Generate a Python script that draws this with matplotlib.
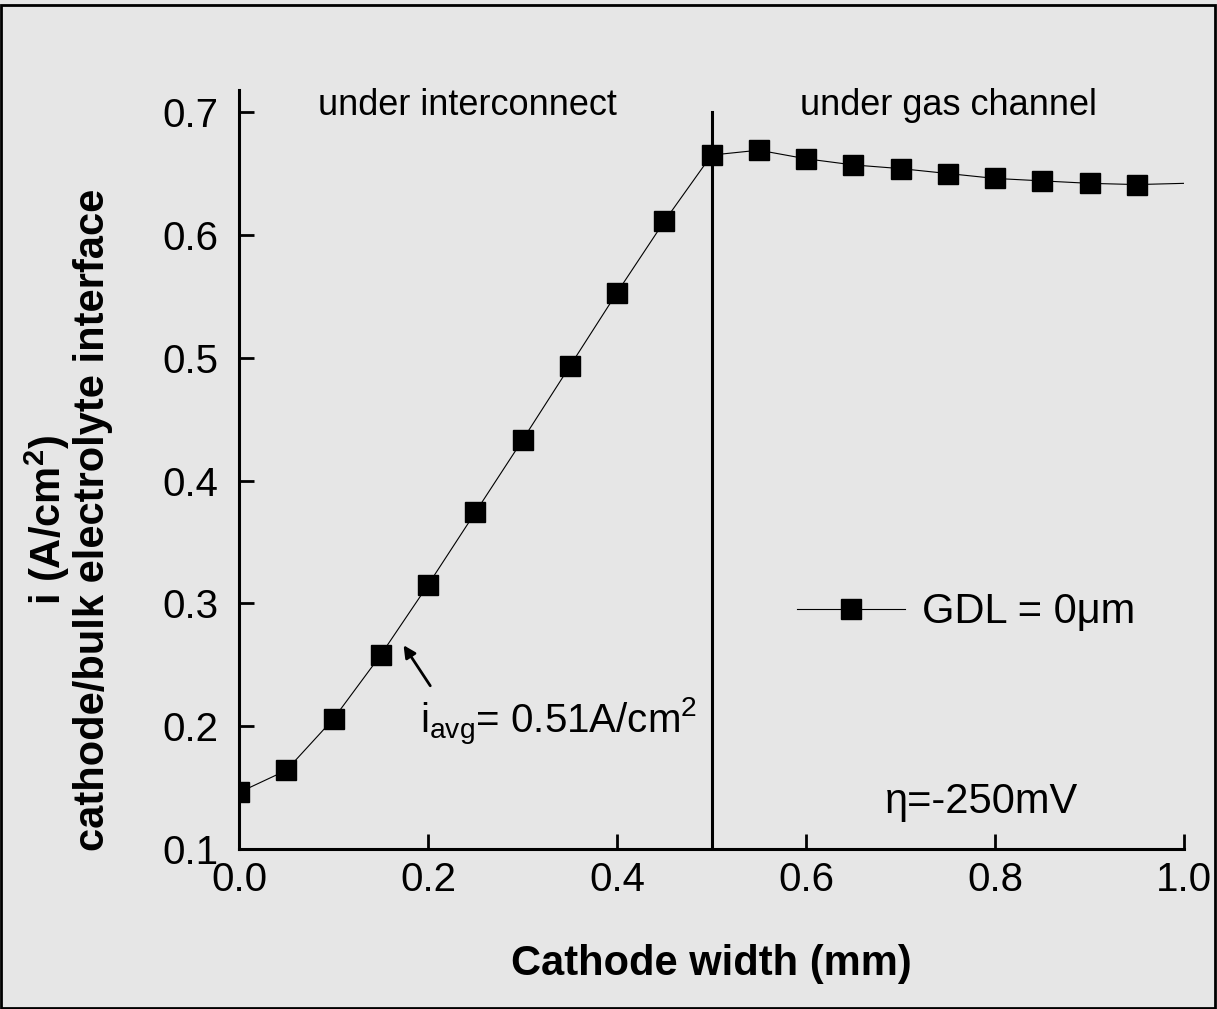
import numpy as np
import matplotlib.pyplot as plt
from matplotlib.patches import Rectangle

# current density along the cathode width
width_mm = [0.0, 0.05, 0.10, 0.15, 0.20, 0.25, 0.30, 0.35, 0.40, 0.45,
            0.50, 0.55, 0.60, 0.65, 0.70, 0.75, 0.80, 0.85, 0.90, 0.95, 1.0]
current = [0.146, 0.164, 0.206, 0.258, 0.315, 0.374, 0.433, 0.493, 0.553, 0.611,
           0.665, 0.669, 0.662, 0.657, 0.654, 0.650, 0.646, 0.644, 0.642, 0.641, 0.642]
series_label = 'GDL = 0\u03bcm'
x_ticks = [0.0, 0.2, 0.4, 0.6, 0.8, 1.0]
y_ticks = [0.1, 0.2, 0.3, 0.4, 0.5, 0.6, 0.7]
boundary_x = 0.5

plt.rcParams['font.family'] = ['Liberation Sans', 'DejaVu Sans']
plt.rcParams['mathtext.fontset'] = 'custom'
plt.rcParams['mathtext.rm'] = 'Liberation Sans'
plt.rcParams['mathtext.it'] = 'Liberation Sans'
plt.rcParams['mathtext.bf'] = 'Liberation Sans:bold'

bg = '#e6e6e6'
fig = plt.figure(figsize=(12.17, 10.09), dpi=100)
fig.patch.set_facecolor(bg)
fig.patches.append(Rectangle((0.001, 0.001), 0.997, 0.994, transform=fig.transFigure,
                             fill=False, edgecolor='black', linewidth=2))

ax = fig.add_axes([0.1964, 0.1586, 0.7765, 0.7522])
ax.set_facecolor(bg)

# markers on every point except the line end at 1.0
ax.plot(width_mm, current, color='black', linewidth=0.8, marker='s', markersize=14,
        markevery=list(range(len(width_mm) - 1)), label=series_label)
ax.plot([boundary_x, boundary_x], [0.1, 0.7], color='black', linewidth=2.2)

ax.set_xlim(0.0, 1.0)
ax.set_ylim(0.1, 0.718)
ax.set_xticks(x_ticks)
ax.set_yticks(y_ticks)
ax.set_xticklabels(['%.1f' % v for v in x_ticks])
ax.set_yticklabels(['%.1f' % v for v in y_ticks])
for s in ['top', 'right']:
    ax.spines[s].set_visible(False)
for s in ['left', 'bottom']:
    ax.spines[s].set_linewidth(2.2)
ax.tick_params(axis='both', direction='in', length=11, width=2, labelsize=29)
ax.tick_params(axis='y', pad=15)
ax.tick_params(axis='x', pad=9)

ax.set_xlabel('Cathode width (mm)', fontsize=30, fontweight='bold')
ax.xaxis.set_label_coords(0.5, -0.125)
ax.set_ylabel('i (A/cm$^\\mathbf{2}$)\ncathode/bulk electrolyte interface',
              fontsize=30, fontweight='bold', multialignment='center', linespacing=1.05)
ax.yaxis.set_label_coords(-0.133, 0.433)

ax.text(0.0836, 0.6977, 'under interconnect', fontsize=26, va='baseline')
ax.text(0.5937, 0.6977, 'under gas channel', fontsize=26, va='baseline')
ax.text(0.6836, 0.1293, '\u03b7=-250mV', fontsize=30, va='baseline')
ax.annotate('', xy=(0.1725, 0.2678), xytext=(0.204, 0.231),
            arrowprops=dict(arrowstyle='-|>', color='black', lw=2, mutation_scale=18))
ax.text(0.1915, 0.1945, r'$\mathregular{i_{avg}}$= 0.51A/cm$^\mathregular{2}$',
        fontsize=29, va='baseline')

ax.legend(loc='center left', bbox_to_anchor=(0.590, 0.312), frameon=False, fontsize=30,
          handlelength=2.6, handletextpad=0.4, borderpad=0, borderaxespad=0)

fig.savefig('out.png', dpi=100, facecolor=fig.get_facecolor())
